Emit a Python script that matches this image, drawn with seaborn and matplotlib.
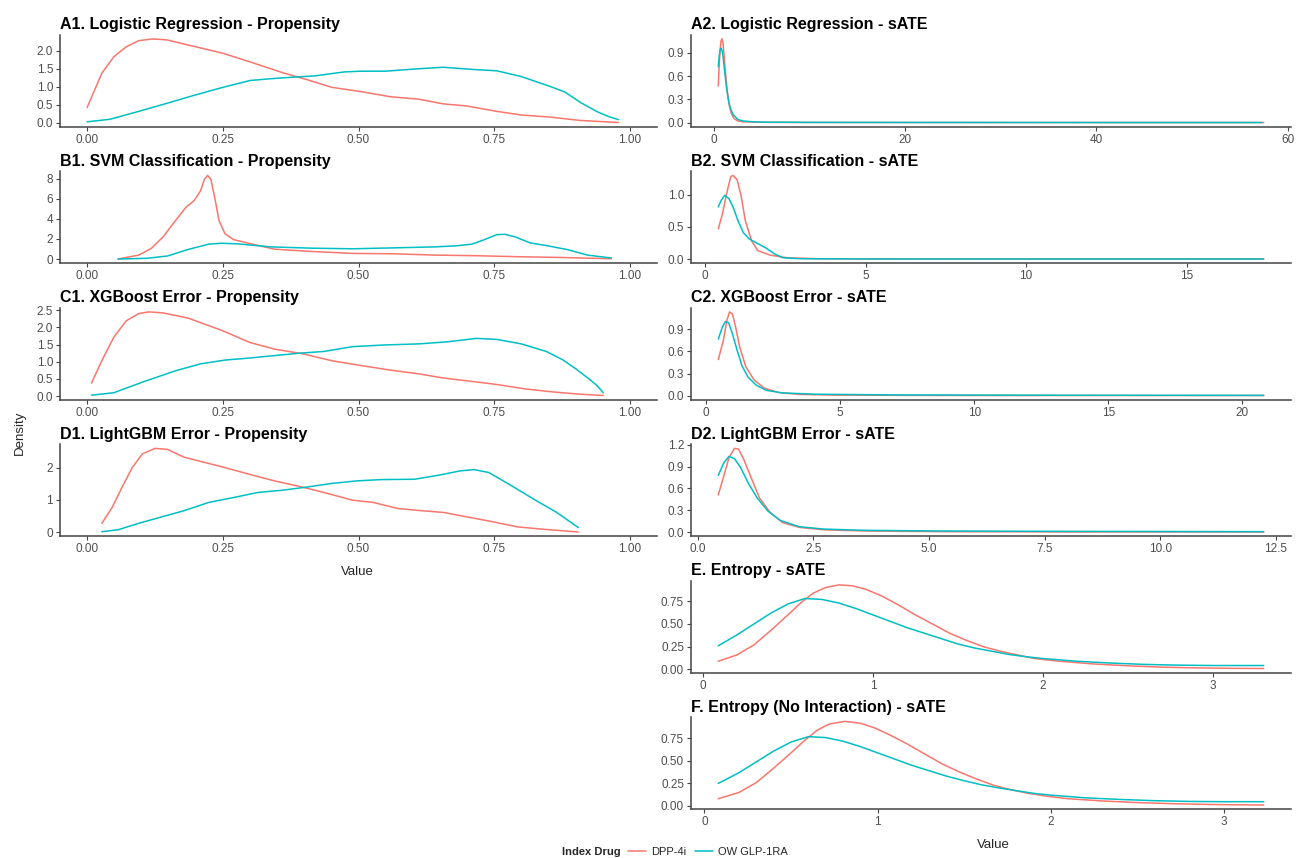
import numpy as np
import pandas as pd
import matplotlib
matplotlib.use("Agg")
import matplotlib.pyplot as plt
from matplotlib.lines import Line2D
import seaborn as sns

# ---- data (density curves per panel) ----
groups = ["DPP-4i", "OW GLP-1RA"]
colors = {"DPP-4i": "#F8766D", "OW GLP-1RA": "#00BFC4"}

# A1. Logistic Regression - Propensity
a1_x_dpp = [0.0, 0.027, 0.049, 0.072, 0.095, 0.121, 0.148, 0.186, 0.25, 0.30, 0.36, 0.406,
            0.451, 0.505, 0.558, 0.611, 0.656, 0.70, 0.755, 0.80, 0.854, 0.907, 0.979]
a1_y_dpp = [0.42, 1.37, 1.83, 2.11, 2.28, 2.33, 2.30, 2.16, 1.93, 1.69, 1.39, 1.19,
            0.98, 0.86, 0.72, 0.65, 0.52, 0.46, 0.31, 0.21, 0.15, 0.06, 0.0]
a1_x_glp = [0.0, 0.042, 0.095, 0.148, 0.20, 0.25, 0.30, 0.338, 0.376, 0.42, 0.474, 0.505,
            0.55, 0.603, 0.656, 0.709, 0.755, 0.80, 0.854, 0.88, 0.91, 0.94, 0.96, 0.979]
a1_y_glp = [0.02, 0.09, 0.31, 0.54, 0.77, 0.98, 1.17, 1.22, 1.26, 1.30, 1.41, 1.43,
            1.43, 1.49, 1.54, 1.48, 1.44, 1.28, 1.0, 0.85, 0.55, 0.30, 0.17, 0.08]

# A2. Logistic Regression - sATE
a2_x_dpp = [0.45, 0.55, 0.65, 0.75, 0.85, 0.95, 1.05, 1.2, 1.4, 1.6, 1.8, 2.1, 2.5, 3.0,
            4.0, 6.0, 10.0, 20.0, 40.0, 57.5]
a2_y_dpp = [0.47, 0.75, 0.95, 1.06, 1.08, 1.02, 0.88, 0.65, 0.40, 0.22, 0.12, 0.05, 0.02,
            0.01, 0.005, 0.002, 0.001, 0.0, 0.0, 0.0]
a2_x_glp = [0.45, 0.55, 0.65, 0.75, 0.85, 0.95, 1.1, 1.3, 1.5, 1.7, 2.0, 2.5, 3.0, 4.0,
            5.0, 10.0, 20.0, 40.0, 57.3]
a2_y_glp = [0.72, 0.86, 0.94, 0.96, 0.93, 0.85, 0.68, 0.46, 0.30, 0.19, 0.10, 0.04, 0.02,
            0.01, 0.005, 0.002, 0.001, 0.0, 0.0]

# B1. SVM Classification - Propensity
b1_x_dpp = [0.057, 0.095, 0.118, 0.14, 0.163, 0.182, 0.197, 0.209, 0.216, 0.222, 0.228,
            0.235, 0.243, 0.254, 0.27, 0.30, 0.345, 0.414, 0.489, 0.565, 0.641, 0.717,
            0.793, 0.869, 0.966]
b1_y_dpp = [0.0, 0.39, 1.05, 2.2, 3.84, 5.15, 5.8, 6.8, 7.93, 8.33, 7.93, 6.13, 3.84,
            2.52, 1.93, 1.54, 0.98, 0.75, 0.56, 0.52, 0.39, 0.33, 0.23, 0.16, 0.03]
b1_x_glp = [0.057, 0.11, 0.148, 0.186, 0.224, 0.247, 0.277, 0.338, 0.414, 0.489, 0.565,
            0.641, 0.679, 0.709, 0.732, 0.755, 0.77, 0.789, 0.816, 0.846, 0.884, 0.922, 0.966]
b1_y_glp = [0.0, 0.07, 0.30, 0.95, 1.48, 1.57, 1.51, 1.21, 1.08, 1.02, 1.11, 1.21, 1.31,
            1.48, 1.93, 2.43, 2.46, 2.2, 1.61, 1.34, 0.95, 0.39, 0.1]

# B2. SVM Classification - sATE
b2_x_dpp = [0.41, 0.54, 0.67, 0.80, 0.87, 1.0, 1.13, 1.25, 1.45, 1.64, 2.03, 2.55, 3.45,
            5.0, 10.0, 17.4]
b2_y_dpp = [0.47, 0.70, 1.02, 1.28, 1.30, 1.23, 0.96, 0.60, 0.28, 0.13, 0.06, 0.02, 0.005,
            0.001, 0.0, 0.0]
b2_x_glp = [0.41, 0.50, 0.61, 0.74, 0.87, 1.02, 1.19, 1.38, 1.64, 1.9, 2.16, 2.42, 2.94,
            5.0, 10.0, 17.4]
b2_y_glp = [0.81, 0.91, 0.99, 0.94, 0.81, 0.60, 0.41, 0.31, 0.24, 0.17, 0.08, 0.02, 0.005,
            0.001, 0.0, 0.0]

# C1. XGBoost Error - Propensity
c1_x_dpp = [0.008, 0.027, 0.049, 0.072, 0.095, 0.114, 0.14, 0.186, 0.25, 0.30, 0.345,
            0.398, 0.451, 0.505, 0.558, 0.611, 0.656, 0.709, 0.755, 0.808, 0.861, 0.907, 0.951]
c1_y_dpp = [0.38, 1.03, 1.71, 2.19, 2.40, 2.45, 2.42, 2.27, 1.90, 1.56, 1.37, 1.23, 1.03,
            0.89, 0.76, 0.65, 0.53, 0.43, 0.34, 0.21, 0.12, 0.06, 0.02]
c1_x_glp = [0.008, 0.049, 0.102, 0.163, 0.209, 0.254, 0.30, 0.345, 0.391, 0.436, 0.489,
            0.55, 0.611, 0.664, 0.717, 0.755, 0.80, 0.846, 0.876, 0.90, 0.925, 0.94, 0.951]
c1_y_glp = [0.03, 0.10, 0.41, 0.74, 0.94, 1.05, 1.11, 1.18, 1.25, 1.30, 1.44, 1.49, 1.52,
            1.58, 1.68, 1.65, 1.52, 1.30, 1.06, 0.80, 0.50, 0.30, 0.10]

# C2. XGBoost Error - sATE
c2_x_dpp = [0.45, 0.64, 0.77, 0.87, 0.98, 1.1, 1.25, 1.48, 1.79, 2.17, 2.71, 3.47, 4.85,
            10.0, 20.8]
c2_y_dpp = [0.49, 0.75, 1.02, 1.14, 1.11, 0.93, 0.66, 0.39, 0.21, 0.10, 0.04, 0.015, 0.005,
            0.0, 0.0]
c2_x_glp = [0.45, 0.60, 0.72, 0.84, 0.98, 1.15, 1.33, 1.56, 1.87, 2.25, 2.86, 4.09, 7.15,
            13.3, 20.8]
c2_y_glp = [0.77, 0.93, 1.01, 0.99, 0.84, 0.62, 0.41, 0.25, 0.14, 0.07, 0.035, 0.018, 0.008,
            0.004, 0.002]

# D1. LightGBM Error - Propensity
d1_x_dpp = [0.027, 0.046, 0.064, 0.083, 0.102, 0.125, 0.148, 0.178, 0.201, 0.25, 0.30,
            0.345, 0.391, 0.436, 0.489, 0.527, 0.573, 0.611, 0.656, 0.70, 0.747, 0.793,
            0.838, 0.905]
d1_y_dpp = [0.27, 0.76, 1.38, 2.0, 2.43, 2.60, 2.57, 2.33, 2.23, 2.02, 1.79, 1.59, 1.42,
            1.23, 0.99, 0.92, 0.73, 0.67, 0.61, 0.47, 0.32, 0.16, 0.09, 0.0]
d1_x_glp = [0.027, 0.057, 0.095, 0.133, 0.178, 0.224, 0.269, 0.315, 0.36, 0.406, 0.451,
            0.497, 0.542, 0.603, 0.649, 0.687, 0.713, 0.74, 0.778, 0.823, 0.865, 0.905]
d1_y_glp = [0.01, 0.07, 0.27, 0.45, 0.66, 0.92, 1.07, 1.23, 1.30, 1.40, 1.51, 1.59, 1.63,
            1.64, 1.77, 1.90, 1.94, 1.85, 1.48, 1.02, 0.61, 0.14]

# D2. LightGBM Error - sATE
d2_x_dpp = [0.44, 0.56, 0.67, 0.79, 0.88, 0.99, 1.15, 1.33, 1.56, 1.83, 2.19, 2.73, 3.63,
            5.26, 7.97, 12.24]
d2_y_dpp = [0.51, 0.77, 1.02, 1.15, 1.14, 1.0, 0.75, 0.47, 0.27, 0.13, 0.064, 0.03, 0.014,
            0.005, 0.001, 0.0]
d2_x_glp = [0.44, 0.56, 0.67, 0.79, 0.92, 1.10, 1.28, 1.51, 1.78, 2.19, 2.73, 3.63, 5.26,
            7.97, 12.24]
d2_y_glp = [0.78, 0.95, 1.04, 1.01, 0.89, 0.66, 0.47, 0.29, 0.16, 0.073, 0.04, 0.023, 0.014,
            0.009, 0.005]

# E. Entropy - sATE
e_x_dpp = [0.09, 0.2, 0.3, 0.4, 0.5, 0.58, 0.65, 0.72, 0.80, 0.88, 0.96, 1.05, 1.15, 1.25,
           1.35, 1.45, 1.55, 1.65, 1.75, 1.85, 1.95, 2.1, 2.3, 2.5, 2.7, 2.9, 3.1, 3.3]
e_y_dpp = [0.09, 0.16, 0.27, 0.43, 0.60, 0.74, 0.84, 0.90, 0.93, 0.92, 0.88, 0.81, 0.71,
           0.60, 0.50, 0.40, 0.32, 0.25, 0.20, 0.16, 0.12, 0.09, 0.06, 0.04, 0.025, 0.017,
           0.012, 0.01]
e_x_glp = [0.09, 0.2, 0.3, 0.4, 0.5, 0.6, 0.7, 0.8, 0.9, 1.0, 1.1, 1.2, 1.3, 1.4, 1.5, 1.6,
           1.7, 1.8, 1.9, 2.0, 2.2, 2.4, 2.6, 2.8, 3.0, 3.3]
e_y_glp = [0.26, 0.38, 0.50, 0.62, 0.72, 0.78, 0.77, 0.73, 0.67, 0.60, 0.53, 0.46, 0.40,
           0.34, 0.28, 0.235, 0.20, 0.165, 0.14, 0.12, 0.09, 0.07, 0.055, 0.047, 0.043, 0.043]

# F. Entropy (No Interaction) - sATE
f_x_dpp = [0.08, 0.2, 0.3, 0.4, 0.5, 0.58, 0.65, 0.72, 0.81, 0.9, 0.98, 1.07, 1.17, 1.27,
           1.37, 1.47, 1.57, 1.67, 1.77, 1.87, 1.97, 2.1, 2.3, 2.5, 2.7, 2.9, 3.05, 3.23]
f_y_dpp = [0.08, 0.15, 0.26, 0.42, 0.59, 0.73, 0.84, 0.91, 0.94, 0.92, 0.87, 0.79, 0.69,
           0.58, 0.47, 0.38, 0.30, 0.23, 0.18, 0.14, 0.11, 0.08, 0.055, 0.037, 0.025, 0.017,
           0.013, 0.01]
f_x_glp = [0.08, 0.2, 0.3, 0.4, 0.5, 0.6, 0.7, 0.8, 0.9, 1.0, 1.1, 1.2, 1.3, 1.4, 1.5, 1.6,
           1.7, 1.8, 1.9, 2.0, 2.2, 2.4, 2.6, 2.8, 3.0, 3.23]
f_y_glp = [0.25, 0.37, 0.49, 0.61, 0.71, 0.77, 0.76, 0.72, 0.66, 0.59, 0.52, 0.45, 0.39,
           0.33, 0.28, 0.235, 0.20, 0.17, 0.14, 0.12, 0.09, 0.072, 0.058, 0.05, 0.047, 0.047]

titles = ["A1. Logistic Regression - Propensity", "A2. Logistic Regression - sATE",
          "B1. SVM Classification - Propensity", "B2. SVM Classification - sATE",
          "C1. XGBoost Error - Propensity", "C2. XGBoost Error - sATE",
          "D1. LightGBM Error - Propensity", "D2. LightGBM Error - sATE",
          "E. Entropy - sATE", "F. Entropy (No Interaction) - sATE"]

prop_xticks = [0.0, 0.25, 0.5, 0.75, 1.0]


def make_df(x_dpp, y_dpp, x_glp, y_glp):
    d1 = pd.DataFrame({"Value": x_dpp, "Density": y_dpp, "Index Drug": groups[0]})
    d2 = pd.DataFrame({"Value": x_glp, "Density": y_glp, "Index Drug": groups[1]})
    return pd.concat([d1, d2], ignore_index=True)


# (title, data, x ticks, x tick labels, y ticks, y tick labels, column, row, fixed xlim)
panels = [
    (titles[0], make_df(a1_x_dpp, a1_y_dpp, a1_x_glp, a1_y_glp), prop_xticks,
     ["0.00", "0.25", "0.50", "0.75", "1.00"], [0, 0.5, 1.0, 1.5, 2.0],
     ["0.0", "0.5", "1.0", "1.5", "2.0"], 0, 0, (0, 1)),
    (titles[1], make_df(a2_x_dpp, a2_y_dpp, a2_x_glp, a2_y_glp), [0, 20, 40, 60],
     ["0", "20", "40", "60"], [0, 0.3, 0.6, 0.9], ["0.0", "0.3", "0.6", "0.9"], 1, 0, None),
    (titles[2], make_df(b1_x_dpp, b1_y_dpp, b1_x_glp, b1_y_glp), prop_xticks,
     ["0.00", "0.25", "0.50", "0.75", "1.00"], [0, 2, 4, 6, 8],
     ["0", "2", "4", "6", "8"], 0, 1, (0, 1)),
    (titles[3], make_df(b2_x_dpp, b2_y_dpp, b2_x_glp, b2_y_glp), [0, 5, 10, 15],
     ["0", "5", "10", "15"], [0, 0.5, 1.0], ["0.0", "0.5", "1.0"], 1, 1, None),
    (titles[4], make_df(c1_x_dpp, c1_y_dpp, c1_x_glp, c1_y_glp), prop_xticks,
     ["0.00", "0.25", "0.50", "0.75", "1.00"], [0, 0.5, 1.0, 1.5, 2.0, 2.5],
     ["0.0", "0.5", "1.0", "1.5", "2.0", "2.5"], 0, 2, (0, 1)),
    (titles[5], make_df(c2_x_dpp, c2_y_dpp, c2_x_glp, c2_y_glp), [0, 5, 10, 15, 20],
     ["0", "5", "10", "15", "20"], [0, 0.3, 0.6, 0.9], ["0.0", "0.3", "0.6", "0.9"], 1, 2, None),
    (titles[6], make_df(d1_x_dpp, d1_y_dpp, d1_x_glp, d1_y_glp), prop_xticks,
     ["0.00", "0.25", "0.50", "0.75", "1.00"], [0, 1, 2], ["0", "1", "2"], 0, 3, (0, 1)),
    (titles[7], make_df(d2_x_dpp, d2_y_dpp, d2_x_glp, d2_y_glp), [0, 2.5, 5, 7.5, 10, 12.5],
     ["0.0", "2.5", "5.0", "7.5", "10.0", "12.5"], [0, 0.3, 0.6, 0.9, 1.2],
     ["0.0", "0.3", "0.6", "0.9", "1.2"], 1, 3, None),
    (titles[8], make_df(e_x_dpp, e_y_dpp, e_x_glp, e_y_glp), [0, 1, 2, 3],
     ["0", "1", "2", "3"], [0, 0.25, 0.5, 0.75], ["0.00", "0.25", "0.50", "0.75"], 1, 4, None),
    (titles[9], make_df(f_x_dpp, f_y_dpp, f_x_glp, f_y_glp), [0, 1, 2, 3],
     ["0", "1", "2", "3"], [0, 0.25, 0.5, 0.75], ["0.00", "0.25", "0.50", "0.75"], 1, 5, None),
]

sns.set_style("white")
plt.rcParams["font.family"] = ["Liberation Sans", "DejaVu Sans"]

W, H = 1306, 858
fig = plt.figure(figsize=(W / 100, H / 100), dpi=100)

col_left = [60, 691]
col_width = [597, 600]
ax_h = 92
axis_color = "#444444"
tick_color = "#4D4D4D"

for title, df, xt, xtl, yt, ytl, col, row, fixed in panels:
    bottom_px = 126.7 + 136.5 * row
    ax = fig.add_axes([col_left[col] / W, 1 - bottom_px / H, col_width[col] / W, ax_h / H])
    sns.lineplot(data=df, x="Value", y="Density", hue="Index Drug", palette=colors,
                 estimator=None, linewidth=1.1, legend=False, ax=ax)
    for ln in ax.lines:
        ln.set_solid_joinstyle("round")
    # ggplot-like 5% expansion
    if fixed is not None:
        lo, hi = fixed
    else:
        lo, hi = df["Value"].min(), df["Value"].max()
    pad = (hi - lo) * 0.05
    ax.set_xlim(lo - pad, hi + pad)
    ylo, yhi = df["Density"].min(), df["Density"].max()
    ypad = (yhi - ylo) * 0.05
    ax.set_ylim(ylo - ypad, yhi + ypad)
    ax.set_xticks(xt)
    ax.set_xticklabels(xtl)
    ax.set_yticks(yt)
    ax.set_yticklabels(ytl)
    ax.set_xlabel("")
    ax.set_ylabel("")
    ax.set_title(title, loc="left", fontsize=11.5, fontweight="bold", pad=4, color="black")
    sns.despine(ax=ax)
    for side in ["left", "bottom"]:
        ax.spines[side].set_color(axis_color)
        ax.spines[side].set_linewidth(1.1)
    ax.tick_params(axis="both", which="major", length=3, width=0.8, color=axis_color,
                   labelcolor=tick_color, labelsize=8.5, pad=2, direction="out",
                   bottom=True, left=True)

fig.text(20 / W, 1 - 433 / H, "Density", rotation=90, ha="center", va="center", fontsize=9.5)
fig.text(357 / W, 1 - 572 / H, "Value", ha="center", va="center", fontsize=9.5)
fig.text(993 / W, 1 - 845 / H, "Value", ha="center", va="center", fontsize=9.5)

# legend at the bottom
fig.text(591 / W, 1 - 852 / H, "Index Drug", ha="center", va="center", fontsize=8,
         fontweight="bold")
handles = [Line2D([0], [0], color=colors[g], lw=1.1) for g in groups]
fig.legend(handles, groups, loc="center", bbox_to_anchor=(708 / W, 1 - 852 / H), ncol=2,
           frameon=False, fontsize=8, handlelength=1.6, handletextpad=0.5,
           columnspacing=0.8, borderaxespad=0, borderpad=0)

fig.savefig("out.png", dpi=100)
